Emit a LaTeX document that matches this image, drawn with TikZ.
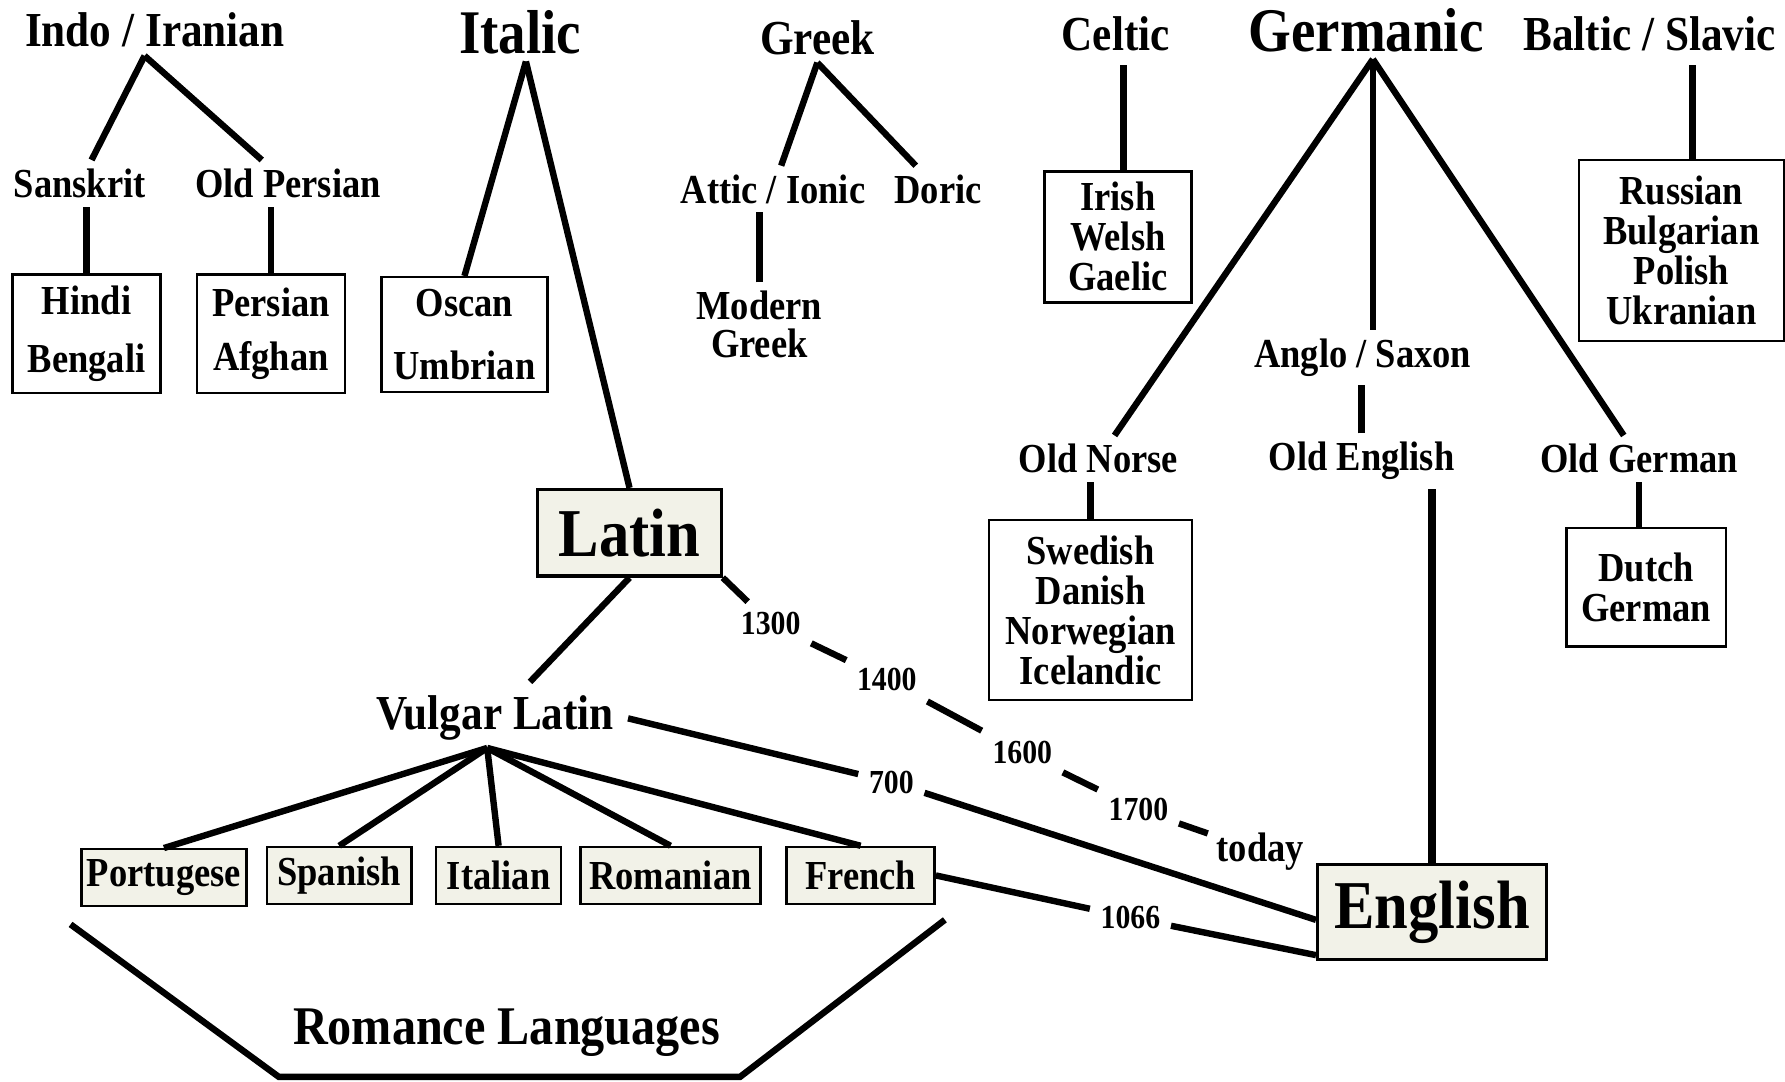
\documentclass[tikz,border=0pt]{standalone}
\usepackage{fontspec}
\setmainfont{Liberation Serif}[FakeStretch=0.885]
\usepackage{tikz}

\definecolor{paper}{RGB}{242,242,232}

\begin{document}
\begin{tikzpicture}[x=0.01cm,y=-0.01cm,
    bigname/.style={font=\bfseries\fontsize{15.5}{16}\selectfont},
    family/.style={font=\bfseries\fontsize{12.2}{13}\selectfont},
    branch/.style={font=\bfseries\fontsize{10.3}{9.4}\selectfont, inner sep=2pt},
    langbox/.style={draw, line width=0.6pt, align=center, inner sep=0pt, font=\bfseries\fontsize{10.3}{10}\selectfont},
    keylang/.style={draw, line width=0.8pt, fill=paper, inner sep=0pt, font=\bfseries\fontsize{17.1}{18}\selectfont},
    romance/.style={draw, line width=0.6pt, fill=paper, inner sep=0pt, minimum height=0.50cm, font=\bfseries\fontsize{10.3}{11}\selectfont},
    year/.style={font=\bfseries\fontsize{8.4}{9}\selectfont, inner sep=2.5pt},
    link/.style={line width=1.6pt}]

			\useasboundingbox (0,0) rectangle (1568,950);

			% families
			\node[family] (indo) at (136,26) {Indo / Iranian};
			\node[bigname] (italic) at (457,28) {Italic};
			\node[family] (greek) at (718,33) {Greek};
			\node[family] (celtic) at (980,30) {Celtic};
			\node[bigname] (germanic) at (1200,27) {Germanic};
			\node[family] (baltic) at (1449,30) {Baltic / Slavic};
			\coordinate (inditop) at (127,49);
			\coordinate (italtop) at (462,54);
			\coordinate (greektop) at (718,55);
			\coordinate (germtop) at (1206,52);

			% branches
			\node[branch] (sanskrit) at (70,161) {Sanskrit};
			\node[branch] (oldpersian) at (253,161) {Old Persian};
			\node[branch] (attic) at (679,166) {Attic / Ionic};
			\node[branch] (doric) at (824,166) {Doric};
			\node[branch, align=center] (modgreek) at (667,285) {Modern\\Greek};
			\node[branch] (anglo) at (1197,314) {Anglo / Saxon};
			\node[branch] (oldnorse) at (965,403) {Old Norse};
			\node[branch] (oldenglish) at (1196,405) {Old English};
			\node[branch] (oldgerman) at (1440,403) {Old German};

			% modern languages
			\node[langbox, minimum width=1.30cm, minimum height=1.04cm] (hindi) at (76,293) {Hindi\\[4.5pt]Bengali};
			\node[langbox, minimum width=1.30cm, minimum height=1.04cm] (persian) at (238,293) {Persian\\[3.4pt]Afghan};
			\node[langbox, minimum width=1.46cm, minimum height=1.01cm] (oscan) at (408,294) {Oscan\\[5.6pt]Umbrian};
			\node[langbox, minimum width=1.29cm, minimum height=1.15cm] (irish) at (982,208) {Irish\\Welsh\\Gaelic};
			\node[langbox, minimum width=1.80cm, minimum height=1.59cm] (russian) at (1477,220) {Russian\\Bulgarian\\Polish\\Ukranian};
			\node[langbox, minimum width=1.78cm, minimum height=1.58cm] (swedish) at (958,536) {Swedish\\Danish\\Norwegian\\Icelandic};
			\node[langbox, minimum width=1.40cm, minimum height=1.04cm] (dutch) at (1446,516) {Dutch\\German};

			\node[keylang, minimum width=1.61cm, minimum height=0.76cm] (latin) at (553,468) {Latin};
			\node[keylang, minimum width=2.01cm, minimum height=0.83cm] (english) at (1258,801) {English};

			\node[family] (vulgar) at (435,631) {Vulgar Latin};
			\coordinate (vulgarfan) at (428,657);
			\node[romance, minimum width=1.45cm] (portugese) at (144,771) {Portugese};
			\node[romance, minimum width=1.27cm] (spanish) at (298,769) {Spanish};
			\node[romance, minimum width=1.10cm] (italian) at (438,769) {Italian};
			\node[romance, minimum width=1.58cm] (romanian) at (589,769) {Romanian};
			\node[romance, minimum width=1.30cm] (french) at (756,769) {French};
			\node[font=\bfseries\fontsize{13.6}{14}\selectfont] (romancelang) at (445,907) {Romance Languages};

			% dates
			\node[year] (y1300) at (677,548) {1300};
			\node[year] (y1400) at (779,597) {1400};
			\node[year] (y1600) at (898,661) {1600};
			\node[year] (y1700) at (1000,711) {1700};
			\node[branch] (today) at (1107,748) {today};
			\node[year] (y700) at (783,687) {700};
			\node[year] (y1066) at (993,806) {1066};

			% tree lines
			\draw[link] (inditop) -- (sanskrit);
			\draw[link] (inditop) -- (oldpersian);
			\draw[link] (hindi.north) -- (hindi.north |- sanskrit.south);
			\draw[link] (persian.north) -- (persian.north |- oldpersian.south);
			\draw[link] (italtop) -- (oscan.north);
			\draw[link] (italtop) -- (latin.north);
			\draw[link] (greektop) -- (attic);
			\draw[link] (greektop) -- (doric);
			\draw[link] (modgreek.north) -- (modgreek.north |- attic.south);
			\draw[link] ([xshift=1.4pt]irish.north) -- ([xshift=1.4pt]irish.north |- celtic.south);
			\draw[link] ([xshift=2.8pt]russian.north) -- ([xshift=2.8pt]russian.north |- baltic.south);
			\draw[link] (germtop) -- (oldnorse);
			\draw[link] (germtop) -- (germtop |- anglo.north);
			\draw[link] (germtop) -- (oldgerman);
			\draw[link] (oldenglish.north) -- (oldenglish.north |- anglo.south);
			\draw[link] (swedish.north) -- (swedish.north |- oldnorse.south);
			\draw[link] (oldgerman.south) -- (oldgerman.south |- dutch.north);
			\draw[link, line width=2pt] (english.north) -- (english.north |- oldenglish.south);
			\draw[link] (latin.south) -- (vulgar);
			\draw[link] (vulgarfan) -- (portugese.north);
			\draw[link] (vulgarfan) -- (spanish.north);
			\draw[link] (vulgarfan) -- (italian.north);
			\draw[link] (vulgarfan) -- (romanian.north);
			\draw[link] (vulgarfan) -- (french.north);

			% into English
			\draw[link] (vulgar.east) -- (y700) -- ([yshift=-2pt]english.west);
			\draw[link] (french.east) -- (y1066) -- ([yshift=1.4pt]english.south west);
			\draw[link] (latin.south east) -- (y1300) -- (y1400) -- (y1600) -- (y1700) -- (today);

			% romance bracket
			\draw[link] (62,812) -- (245,946) -- (650,946) -- (830,808);
			\end{tikzpicture}
\end{document}
